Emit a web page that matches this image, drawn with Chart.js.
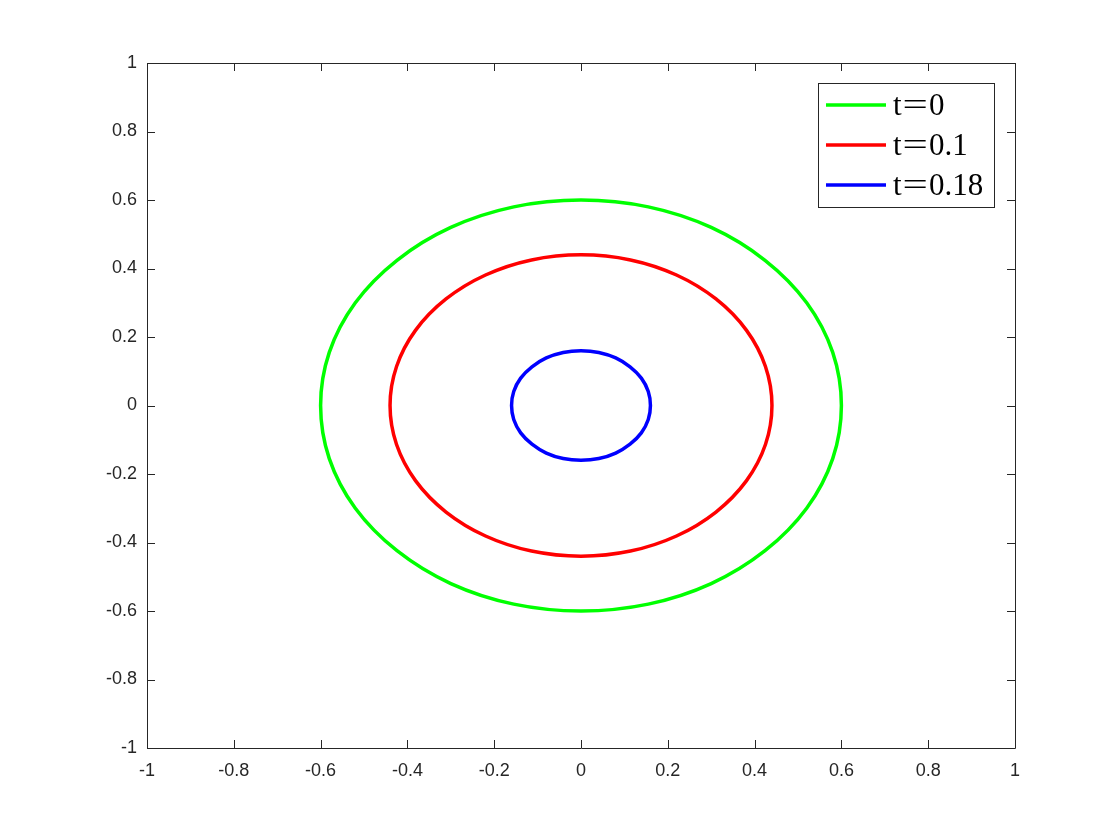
<!DOCTYPE html>
<html>
<head>
<meta charset="utf-8">
<script src="https://cdn.jsdelivr.net/npm/chart.js@4"></script>
<style>
  html, body { margin: 0; padding: 0; background: #fff; }
  #wrap { width: 1120px; height: 840px; }
</style>
</head>
<body>
<div id="wrap"><canvas id="js--chart"></canvas></div>
<script>
// legend labels and colours
const labels = ['t=0', 't=0.1', 't=0.18'];
const colors = ['#00ff00', '#ff0000', '#0000ff'];

// contour points, every 15 degrees from -15 to 375
// (first and last segment only steer the curve, they are not drawn)
const greenX = [0.58, 0.6, 0.58, 0.52, 0.424, 0.3, 0.155, 0, -0.155, -0.3, -0.424, -0.52, -0.58, -0.6, -0.58, -0.52, -0.424, -0.3, -0.155, 0, 0.155, 0.3, 0.424, 0.52, 0.58, 0.6, 0.58];
const greenY = [-0.155, 0, 0.155, 0.3, 0.424, 0.52, 0.58, 0.6, 0.58, 0.52, 0.424, 0.3, 0.155, 0, -0.155, -0.3, -0.424, -0.52, -0.58, -0.6, -0.58, -0.52, -0.424, -0.3, -0.155, 0, 0.155];

const redX = [0.425, 0.44, 0.425, 0.381, 0.311, 0.22, 0.114, 0, -0.114, -0.22, -0.311, -0.381, -0.425, -0.44, -0.425, -0.381, -0.311, -0.22, -0.114, 0, 0.114, 0.22, 0.311, 0.381, 0.425, 0.44, 0.425];
const redY = [-0.114, 0, 0.114, 0.22, 0.311, 0.381, 0.425, 0.44, 0.425, 0.381, 0.311, 0.22, 0.114, 0, -0.114, -0.22, -0.311, -0.381, -0.425, -0.44, -0.425, -0.381, -0.311, -0.22, -0.114, 0, 0.114];

const blueX = [0.155, 0.16, 0.155, 0.139, 0.113, 0.08, 0.041, 0, -0.041, -0.08, -0.113, -0.139, -0.155, -0.16, -0.155, -0.139, -0.113, -0.08, -0.041, 0, 0.041, 0.08, 0.113, 0.139, 0.155, 0.16, 0.155];
const blueY = [-0.041, 0, 0.041, 0.08, 0.113, 0.139, 0.155, 0.16, 0.155, 0.139, 0.113, 0.08, 0.041, 0, -0.041, -0.08, -0.113, -0.139, -0.155, -0.16, -0.155, -0.139, -0.113, -0.08, -0.041, 0, 0.041];

// axis ticks
const tickValues = [-1, -0.8, -0.6, -0.4, -0.2, 0, 0.2, 0.4, 0.6, 0.8, 1];

const curves = [[greenX, greenY], [redX, redY], [blueX, blueY]];

const axisColor = '#262626';

function pts(xs, ys) {
  return xs.map((x, i) => ({ x: x, y: ys[i] }));
}

// matlab style box with inward ticks, plus the legend
const boxPlugin = {
  id: 'box',
  afterDraw(chart) {
    const ctx = chart.ctx;
    const a = chart.chartArea;
    const sx = chart.scales.x, sy = chart.scales.y;
    const len = 8;
    ctx.save();
    ctx.strokeStyle = axisColor;
    ctx.lineWidth = 1;
    ctx.beginPath();
    ctx.rect(Math.round(a.left) + 0.5, Math.round(a.top) + 0.5,
      Math.round(a.right - a.left), Math.round(a.bottom - a.top));
    tickValues.forEach(v => {
      const px = Math.round(sx.getPixelForValue(v)) + 0.5;
      ctx.moveTo(px, a.bottom); ctx.lineTo(px, a.bottom - len);
      ctx.moveTo(px, a.top); ctx.lineTo(px, a.top + len);
      const py = Math.round(sy.getPixelForValue(v)) + 0.5;
      ctx.moveTo(a.left, py); ctx.lineTo(a.left + len, py);
      ctx.moveTo(a.right, py); ctx.lineTo(a.right - len, py);
    });
    ctx.stroke();

    // legend box
    const lx = 818.5, ly = 83.5, lw = 176, lh = 124;
    ctx.fillStyle = '#fff';
    ctx.fillRect(lx, ly, lw, lh);
    ctx.strokeStyle = axisColor;
    ctx.strokeRect(lx, ly, lw, lh);
    ctx.font = '31px "Liberation Serif"';
    ctx.fillStyle = '#000';
    ctx.textBaseline = 'alphabetic';
    chart.data.datasets.forEach((ds, i) => {
      const y = 105 + i * 40;
      ctx.strokeStyle = ds.borderColor;
      ctx.lineWidth = 3.5;
      ctx.beginPath();
      ctx.moveTo(826, y); ctx.lineTo(886, y);
      ctx.stroke();
      const [lhs, rhs] = ds.label.split('=');
      ctx.save();
      ctx.translate(893, y + 10);
      let x = 0;
      ctx.fillText(lhs, x, 0);
      x += ctx.measureText(lhs).width + 1;
      ctx.save();
      ctx.translate(x, 0);
      ctx.scale(1.45, 1);
      ctx.fillText('=', 0, 0);
      ctx.restore();
      x += ctx.measureText('=').width * 1.45 + 1;
      ctx.fillText(rhs, x, 0);
      ctx.restore();
    });
    ctx.restore();
  }
};

const config = {
  type: 'scatter',
  data: {
    datasets: curves.map((c, i) => ({
      label: labels[i],
      data: pts(c[0], c[1]),
      showLine: true,
      borderColor: colors[i],
      backgroundColor: colors[i],
      borderWidth: 3.5,
      pointRadius: 0,
      tension: 0.34,
      segment: {
        borderColor: s => (s.p0DataIndex === 0 || s.p1DataIndex === c[0].length - 1) ? 'rgba(0,0,0,0)' : undefined,
      },
    }))
  },
  options: {
    responsive: true,
    maintainAspectRatio: false,
    animation: false,
    layout: { padding: { left: 0, top: 63, right: 105, bottom: 0 } },
    plugins: {
      legend: { display: false },
      tooltip: { enabled: false },
    },
    scales: {
      x: {
        type: 'linear',
        min: -1, max: 1,
        grid: { display: false },
        border: { display: false },
        afterBuildTicks: s => { s.ticks = tickValues.map(v => ({ value: v })); },
        afterFit: s => { s.height = 92; },
        ticks: {
          color: axisColor,
          font: { family: '"Liberation Sans", Arial, sans-serif', size: 18 },
          padding: 4,
          maxRotation: 0,
          autoSkip: false,
          callback: v => String(v),
        },
      },
      y: {
        type: 'linear',
        min: -1, max: 1,
        grid: { display: false },
        border: { display: false },
        afterBuildTicks: s => { s.ticks = tickValues.map(v => ({ value: v })); },
        afterFit: s => { s.width = 147; },
        ticks: {
          color: axisColor,
          font: { family: '"Liberation Sans", Arial, sans-serif', size: 18 },
          padding: 2,
          autoSkip: false,
          callback: v => String(v),
        },
      },
    },
  },
  plugins: [boxPlugin],
};

new Chart(document.getElementById('js--chart'), config);
</script>
</body>
</html>
